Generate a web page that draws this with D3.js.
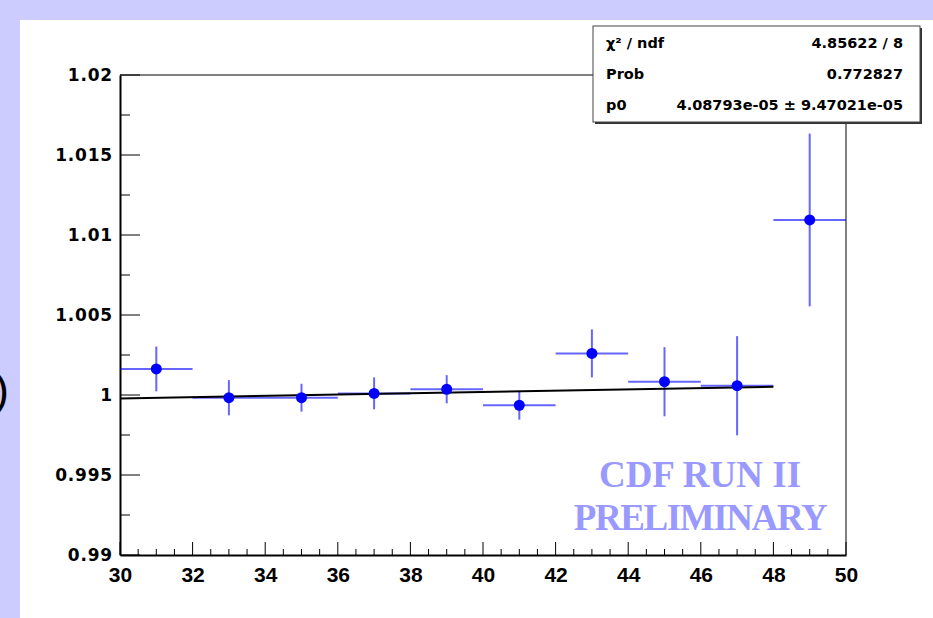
<!DOCTYPE html>
<html>
<head>
<meta charset="utf-8">
<script src="https://cdn.jsdelivr.net/npm/d3@7"></script>
<style>
  body { margin: 0; }
  svg { display: block; }
</style>
</head>
<body>
<div id="content"></div>
<script>
'use strict';
//////////////////// input data
const xCenters = [31, 33, 35, 37, 39, 41, 43, 45, 47, 49];
const xErrors  = [1, 1, 1, 1, 1, 1, 1, 1, 1, 1];
const yValues  = [1.00163, 0.99983, 0.99983, 1.0001, 1.00036, 0.99936, 1.0026, 1.00083, 1.00058, 1.01094];
const yErrors  = [0.0014, 0.0011, 0.00087, 0.001, 0.00088, 0.0009, 0.0015, 0.00216, 0.0031, 0.0054];

const fitRange = [30, 48];
const fitSlope = 4.08793e-05;        // p0
const fitAt30  = 0.99978;

const xTicks = [30, 32, 34, 36, 38, 40, 42, 44, 46, 48, 50];
const yTicks = [0.99, 0.995, 1, 1.005, 1.01, 1.015, 1.02];
const yTickLabels = ['0.99', '0.995', '1', '1.005', '1.01', '1.015', '1.02'];

const statNames  = ['\u03c7\u00b2 / ndf', 'Prob', 'p0'];
const statValues = ['4.85622 / 8', '0.772827', '4.08793e-05 \u00b1 9.47021e-05'];

const points = xCenters.map((x, i) => ({x: x, ex: xErrors[i], y: yValues[i], ey: yErrors[i]}));
const fitY = x => fitAt30 + fitSlope * (x - 30);


//////////////////// drawing area
const W = 933, H = 618;
const margin = { left:120, right:87, top:75, bottom:63 };
const iW = W - margin.left - margin.right;
const iH = H - margin.top - margin.bottom;

const xScale = d3.scaleLinear().domain([30, 50]).range([0, iW]);
const yScale = d3.scaleLinear().domain([0.99, 1.02]).range([iH, 0]);


//////////////////// svg
const svg = d3.select("#content")
    .append("svg")
        .attr("width",  W)
        .attr("height", H);

svg.append("rect")
    .attr("width", W).attr("height", H)
    .attr("fill", "#ccccff");

svg.append("rect")
    .attr("x", 20).attr("y", 20)
    .attr("width", W - 20).attr("height", H - 20)
    .attr("fill", "white");

// bit of slide text cut off at the left
svg.append("text")
    .attr("x", 9).attr("y", 405)
    .attr("text-anchor", "end")
    .attr("font-family", "Liberation Sans, Arial, sans-serif")
    .attr("font-size", 45)
    .attr("fill", "black")
    .text(")");

const diagram = svg.append("g")
    .attr("transform", "translate("+margin.left+", "+margin.top+")");

// frame: grey top and right
diagram.append("line")
    .attr("x1", 0).attr("x2", iW).attr("y1", 0).attr("y2", 0)
    .attr("stroke", "#808080").attr("stroke-width", 2);
diagram.append("line")
    .attr("x1", iW).attr("x2", iW).attr("y1", 0).attr("y2", iH)
    .attr("stroke", "#808080").attr("stroke-width", 2);

// ticks drawn inside the frame, ROOT style
const xMinor = d3.range(30, 50.001, 0.5);
diagram.selectAll(".xtick")
    .data(xMinor)
    .enter().append("line")
    .attr("class", "xtick")
    .attr("x1", d => xScale(d)).attr("x2", d => xScale(d))
    .attr("y1", iH)
    .attr("y2", d => iH - (Math.abs(d / 2 - Math.round(d / 2)) < 1e-6 ? 13 : 6))
    .attr("stroke", "black").attr("stroke-width", 1);

const yMinor = d3.range(0, 13).map(i => 0.99 + i * 0.0025);
diagram.selectAll(".ytick")
    .data(yMinor)
    .enter().append("line")
    .attr("class", "ytick")
    .attr("y1", d => yScale(d)).attr("y2", d => yScale(d))
    .attr("x1", 0)
    .attr("x2", (d, i) => i % 2 === 0 ? 20 : 10)
    .attr("stroke", "black").attr("stroke-width", 1);

const xAxis = diagram.append("g")
    .attr("transform", "translate(0,"+iH+")")
    .call(d3.axisBottom(xScale).tickValues(xTicks).tickSize(0).tickPadding(12));
xAxis.select(".domain").attr("stroke", "black").attr("stroke-width", 2);
xAxis.selectAll("text")
    .attr("font-family", "Liberation Sans, Arial, sans-serif")
    .attr("font-weight", "bold")
    .attr("font-size", 21)
    .attr("fill", "black");

const yAxis = diagram.append("g")
    .call(d3.axisLeft(yScale).tickValues(yTicks).tickSize(0).tickPadding(7)
        .tickFormat((d, i) => yTickLabels[i]));
yAxis.select(".domain").attr("stroke", "black").attr("stroke-width", 2);
yAxis.selectAll("text")
    .attr("font-family", "DejaVu Sans, sans-serif")
    .attr("font-weight", "bold")
    .attr("font-size", 17)
    .attr("letter-spacing", 0.8)
    .attr("fill", "black");

// watermark
const mark = diagram.append("g")
    .attr("font-family", "Liberation Serif, Times New Roman, serif")
    .attr("font-weight", "bold")
    .attr("font-size", 37)
    .attr("fill", "#9999ff")
    .attr("text-anchor", "middle");
mark.append("text").attr("x", 700 - margin.left).attr("y", 487 - margin.top).text("CDF RUN II");
mark.append("text").attr("x", 700 - margin.left).attr("y", 530 - margin.top)
    .attr("letter-spacing", -1.4).text("PRELIMINARY");

// error bars
const bars = diagram.append("g")
    .attr("stroke", "#0000ff").attr("stroke-opacity", 0.6).attr("stroke-width", 2);
bars.selectAll(".ex")
    .data(points)
    .enter().append("line")
    .attr("x1", d => xScale(d.x - d.ex)).attr("x2", d => xScale(d.x + d.ex))
    .attr("y1", d => yScale(d.y)).attr("y2", d => yScale(d.y));
bars.selectAll(".ey")
    .data(points)
    .enter().append("line")
    .attr("x1", d => xScale(d.x)).attr("x2", d => xScale(d.x))
    .attr("y1", d => yScale(d.y - d.ey)).attr("y2", d => yScale(d.y + d.ey));

// fit line
diagram.append("line")
    .attr("x1", xScale(fitRange[0])).attr("y1", yScale(fitY(fitRange[0])))
    .attr("x2", xScale(fitRange[1])).attr("y2", yScale(fitY(fitRange[1])))
    .attr("stroke", "black").attr("stroke-width", 2);

// markers
diagram.selectAll(".pt")
    .data(points)
    .enter().append("circle")
    .attr("class", "pt")
    .attr("cx", d => xScale(d.x)).attr("cy", d => yScale(d.y))
    .attr("r", 5.5)
    .attr("fill", "#0000ff");

// stats box
const box = svg.append("g");
box.append("rect")
    .attr("x", 595).attr("y", 28).attr("width", 327).attr("height", 96)
    .attr("fill", "#333");
box.append("rect")
    .attr("x", 593).attr("y", 26).attr("width", 327).attr("height", 96)
    .attr("fill", "white").attr("stroke", "#444").attr("stroke-width", 1);

box.selectAll(".sname")
    .data(statNames)
    .enter().append("text")
    .attr("x", 606).attr("y", (d, i) => 48 + i * 31)
    .attr("font-family", "DejaVu Sans, sans-serif")
    .attr("font-weight", "bold").attr("font-size", 14.5)
    .text(d => d);
box.selectAll(".sval")
    .data(statValues)
    .enter().append("text")
    .attr("x", 903).attr("y", (d, i) => 48 + i * 31)
    .attr("text-anchor", "end")
    .attr("font-family", "DejaVu Sans, sans-serif")
    .attr("font-weight", "bold").attr("font-size", 14.5)
    .text(d => d);
</script>
</body>
</html>
